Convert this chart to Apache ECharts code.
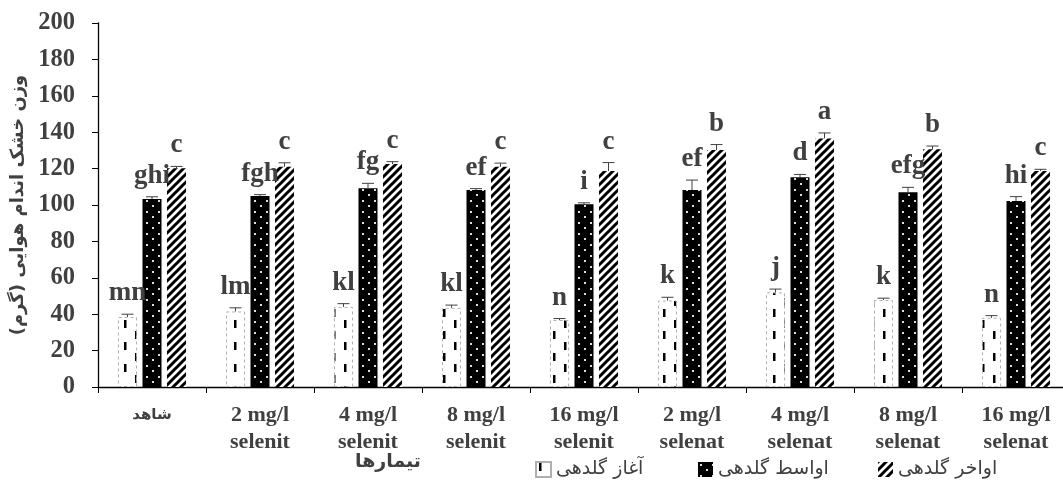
<!DOCTYPE html>
<html>
<head>
<meta charset="utf-8">
<script src="https://cdn.jsdelivr.net/npm/echarts@6/dist/echarts.min.js"></script>
<style>html,body{margin:0;padding:0;background:#fff;}#c{width:1063px;height:487px;}</style>
</head>
<body>
<div id="c"></div>
<script>
const categories = ['شاهد', '2 mg/l\nselenit', '4 mg/l\nselenit', '8 mg/l\nselenit', '16 mg/l\nselenit',
  '2 mg/l\nselenat', '4 mg/l\nselenat', '8 mg/l\nselenat', '16 mg/l\nselenat'];
const seriesNames = ['آغاز گلدهی', 'اواسط گلدهی', 'اواخر گلدهی'];
const earlyVals = [38.5, 41.5, 44, 43.5, 36.8, 47.5, 52, 47.8, 38];
const earlyErr = [1.5, 2, 1.8, 1.5, 0.8, 1.8, 1.8, 1, 1.2];
const midVals = [103.3, 105, 109.2, 108.2, 100.4, 108.2, 115.2, 107, 102.2];
const midErr = [1.2, 0.7, 2.7, 0.8, 0.8, 5.5, 1.6, 2.7, 2.4];
const lateVals = [120.2, 121, 122.5, 121, 118.7, 130.2, 136.6, 130.6, 118.7];
const lateErr = [1, 2.2, 1.3, 2, 4.6, 3, 3, 1.8, 0.9];
const earlyLetters = ['mn', 'lm', 'kl', 'kl', 'n', 'k', 'j', 'k', 'n'];
const midLetters = ['ghi', 'fgh', 'fg', 'ef', 'i', 'ef', 'd', 'efg', 'hi'];
const lateLetters = ['c', 'c', 'c', 'c', 'c', 'b', 'a', 'b', 'c'];
const yTicks = { min: 0, max: 200, interval: 20 };

const BAR_W = 19;
const BAR_GAP = 0.29;
const TEXT = '#404040';
const SERIF = '"Liberation Serif", "Times New Roman", serif';
const FA = '"DejaVu Sans", sans-serif';

function tile(w, h, draw) {
  const c = document.createElement('canvas');
  c.width = w; c.height = h;
  draw(c.getContext('2d'));
  return c;
}
const dashPat = tile(22, 22, g => {
  g.fillStyle = '#fff'; g.fillRect(0, 0, 22, 22);
  g.fillStyle = '#000';
  g.fillRect(3, 1, 2.5, 8);
  g.fillRect(14, 12, 2.5, 8);
});
const dotPat = tile(12, 11, g => {
  g.fillStyle = '#000'; g.fillRect(0, 0, 12, 11);
  g.fillStyle = '#ddd';
  g.fillRect(2, 2, 2, 2);
  g.fillRect(8, 7, 2, 2);
});
const hatchPat = tile(8, 8, g => {
  g.fillStyle = '#fff'; g.fillRect(0, 0, 8, 8);
  g.strokeStyle = '#000'; g.lineWidth = 3;
  g.beginPath();
  g.moveTo(-2, 10); g.lineTo(10, -2);
  g.moveTo(-6, 6); g.lineTo(6, -6);
  g.moveTo(2, 14); g.lineTo(14, 2);
  g.stroke();
});
const fills = [
  { image: dashPat, repeat: 'repeat' },
  { image: dotPat, repeat: 'repeat' },
  { image: hatchPat, repeat: 'repeat' }
];

function barSeries(name, vals, k) {
  return {
    name, type: 'bar', data: vals, barWidth: BAR_W, barGap: (BAR_GAP * 100) + '%',
    barCategoryGap: '40%',
    itemStyle: k === 0 ? { color: fills[k], borderColor: '#b0b0b0', borderWidth: 1, borderType: [3, 3] } : { color: fills[k] },
    z: 2
  };
}
function errSeries(vals, errs, letters, k) {
  return {
    type: 'custom', name: 'err' + k,
    data: vals.map((v, i) => [i, v, errs[i]]),
    z: 10,
    renderItem(params, api) {
      const i = api.value(0);
      const base = api.coord([i, api.value(1)]);
      const top = api.coord([i, api.value(1) + api.value(2)]);
      const x = base[0] + (k - 1) * BAR_W * (1 + BAR_GAP);
      const st = { stroke: TEXT, lineWidth: 1 };
      return {
        type: 'group', children: [
          { type: 'line', shape: { x1: x, y1: base[1], x2: x, y2: top[1] }, style: st },
          { type: 'line', shape: { x1: x - 6, y1: top[1], x2: x + 6, y2: top[1] }, style: st },
          { type: 'text', x: x, y: top[1] - 21, style: { text: letters[i], fill: TEXT, font: 'bold 27px ' + SERIF, align: 'center', verticalAlign: 'middle' } }
        ]
      };
    }
  };
}

function legendAt(name, left) {
  return {
    data: [name], left: left, top: 455, itemWidth: 15, itemHeight: 15, icon: 'rect', itemGap: 0,
    textStyle: { fontFamily: FA, fontSize: 19, color: TEXT }
  };
}

const chart = echarts.init(document.getElementById('c'), null, { renderer: 'canvas' });
chart.setOption({
  animation: false,
  backgroundColor: '#fff',
  grid: { left: 98, right: -7, top: 23, bottom: 100, containLabel: false, outerBoundsMode: 'none' },
  legend: [
    legendAt(seriesNames[0], 530),
    legendAt(seriesNames[1], 693),
    legendAt(seriesNames[2], 873)
  ],
  xAxis: {
    type: 'category', data: categories,
    axisLine: { lineStyle: { color: '#000', width: 1.3 } },
    axisTick: { show: true, length: 6, lineStyle: { color: '#000' } },
    axisLabel: {
      interval: 0, margin: 15, color: TEXT, fontFamily: SERIF, fontWeight: 'bold', fontSize: 22, lineHeight: 27,
      formatter: (v) => v === categories[0] ? '{fa|' + v + '}' : v,
      rich: { fa: { fontFamily: FA, fontWeight: 'bold', fontSize: 15, color: TEXT } }
    }
  },
  yAxis: {
    type: 'value', min: yTicks.min, max: yTicks.max, interval: yTicks.interval,
    name: 'وزن خشک اندام هوایی (گرم)', nameLocation: 'middle', nameRotate: 90, nameGap: 68,
    nameTextStyle: { fontFamily: FA, fontWeight: 'bold', fontSize: 18, color: TEXT },
    axisLine: { show: true, lineStyle: { color: '#000', width: 1.3 } },
    axisTick: { show: true, length: 6, lineStyle: { color: '#000' } },
    splitLine: { show: false },
    axisLabel: { color: TEXT, fontFamily: SERIF, fontWeight: 'bold', fontSize: 24.5, margin: 23 }
  },
  graphic: [{
    type: 'text', left: 355, top: 453,
    style: { text: 'تیمارها', font: 'bold 19px ' + FA, fill: TEXT }
  }],
  series: [
    barSeries(seriesNames[0], earlyVals, 0),
    barSeries(seriesNames[1], midVals, 1),
    barSeries(seriesNames[2], lateVals, 2),
    errSeries(earlyVals, earlyErr, earlyLetters, 0),
    errSeries(midVals, midErr, midLetters, 1),
    errSeries(lateVals, lateErr, lateLetters, 2)
  ]
});
</script>
</body>
</html>
